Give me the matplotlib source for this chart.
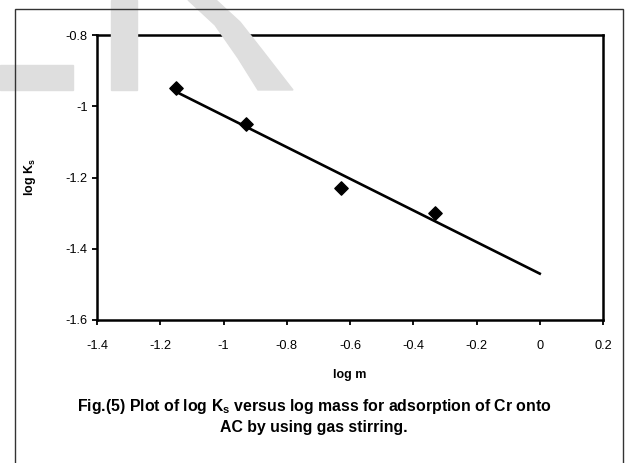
import numpy as np
import matplotlib
matplotlib.use("Agg")
import matplotlib.pyplot as plt
from matplotlib.patches import Polygon, Rectangle

# данные
log_m = [-1.15, -0.93, -0.63, -0.33]
log_ks = [-0.95, -1.05, -1.23, -1.30]
x_ticks = [-1.4, -1.2, -1.0, -0.8, -0.6, -0.4, -0.2, 0.0, 0.2]
y_ticks = [-1.6, -1.4, -1.2, -1.0, -0.8]
x_tick_labels = ["-1.4", "-1.2", "-1", "-0.8", "-0.6", "-0.4", "-0.2", "0", "0.2"]
y_tick_labels = ["-1.6", "-1.4", "-1.2", "-1", "-0.8"]
trend_end = 0.0

caption = ("Fig.(5) Plot of log K$_\\mathregular{s}$ versus log mass for adsorption of Cr onto\n"
           "AC by using gas stirring.")

plt.rcParams["font.family"] = ["Liberation Sans", "DejaVu Sans"]

W, H = 630, 463
fig = plt.figure(figsize=(6.3, 4.63), dpi=100)

# серый водяной знак на фоне
def px(x, y):
    return (x / W, 1 - y / H)

wm = "#dedede"
fig.patches.append(Polygon([px(0, 65), px(73, 65), px(73, 90), px(0, 90)],
                           closed=True, transform=fig.transFigure, color=wm, zorder=0))
fig.patches.append(Polygon([px(111, 0), px(137, 0), px(137, 90), px(111, 90)],
                           closed=True, transform=fig.transFigure, color=wm, zorder=0))
fig.patches.append(Polygon([px(188, 0), px(216, 0), px(240, 22), px(262, 50), px(293, 90),
                            px(258, 90), px(238, 58), px(215, 25)],
                           closed=True, transform=fig.transFigure, color=wm, zorder=0))

# внешняя рамка
fig.patches.append(Rectangle(px(15, 470), (623 - 15) / W, (470 - 9) / H, fill=False,
                             edgecolor="#333333", linewidth=1.0, transform=fig.transFigure, zorder=1))

ax = fig.add_axes([97 / W, 1 - 320 / H, (603 - 97) / W, (320 - 35) / H])
ax.patch.set_alpha(0)

slope, intercept = np.polyfit(log_m, log_ks, 1)
xs = np.array([min(log_m), trend_end])
ax.plot(xs, slope * xs + intercept, color="black", linewidth=1.9, zorder=2)
ax.scatter(log_m, log_ks, marker="D", s=46, color="black", zorder=3)

ax.set_xlim(-1.4, 0.2)
ax.set_ylim(-1.6, -0.8)
ax.set_xticks(x_ticks)
ax.set_xticklabels(x_tick_labels)
ax.set_yticks(y_ticks)
ax.set_yticklabels(y_tick_labels)
ax.tick_params(direction="out", length=3.6, width=1.3, labelsize=9.2, pad=11)
ax.tick_params(axis="y", pad=3)
for s in ax.spines.values():
    s.set_linewidth(1.8)

ax.set_xlabel("log m", fontsize=9, fontweight="bold", labelpad=12)
fig.text(30 / W, 1 - 177 / H, "log K$_\\mathregular{s}$", rotation=90, ha="center", va="center",
         fontsize=9, fontweight="bold")

fig.text(314 / W, 1 - 416 / H, caption, ha="center", va="center", fontsize=11.4,
         fontweight="bold", linespacing=1.4)

fig.savefig("out.png", dpi=100)
